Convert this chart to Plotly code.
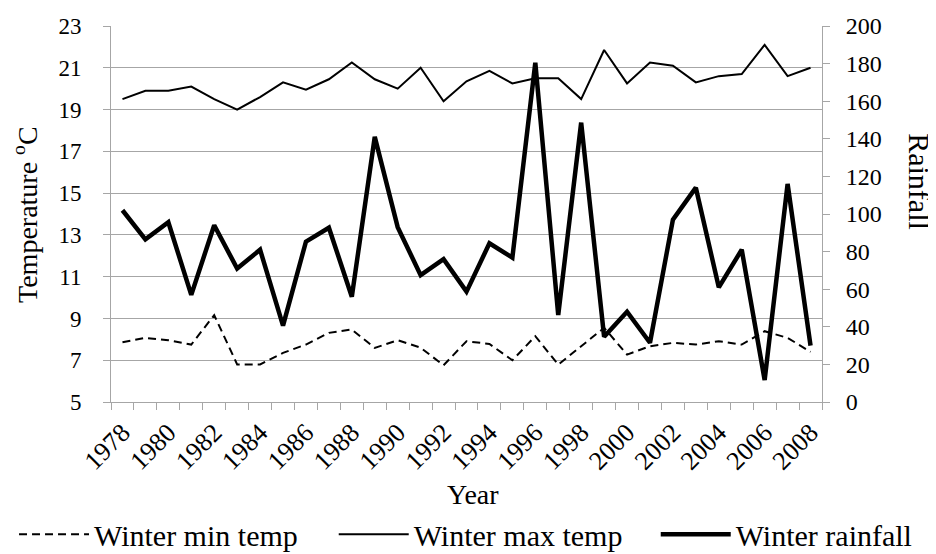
import plotly.graph_objects as go

years = list(range(1978, 2009))
min_temp = [7.86, 8.07, 7.96, 7.75, 9.16, 6.8, 6.8, 7.35, 7.75, 8.31,
            8.47, 7.59, 7.96, 7.6, 6.76, 7.91, 7.78, 7.0, 8.15, 6.79,
            7.67, 8.55, 7.27, 7.67, 7.83, 7.75, 7.91, 7.75, 8.39, 8.07, 7.4]
max_temp = [19.5, 19.9, 19.9, 20.1, 19.5, 19.0, 19.6, 20.3, 19.95, 20.45,
            21.25, 20.45, 20.0, 21.0, 19.4, 20.35, 20.85, 20.25, 20.5, 20.5,
            19.5, 21.85, 20.25, 21.25, 21.1, 20.3, 20.6, 20.7, 22.1, 20.6, 21.0]
rainfall = [102, 86.5, 95.6, 57, 94, 71, 81, 40.6, 85.3, 92.7,
            56, 141, 93, 67.5, 76, 58.7, 84.4, 76.8, 180.5, 46.3,
            148.6, 34.7, 48, 31.5, 97, 114, 61, 81, 11.7, 116, 30]
temp_ticks = list(range(5, 24, 2))
rain_ticks = list(range(0, 201, 20))
year_labels = years[::2]

FONT = "Liberation Serif"
GRID = "#A6A6A6"

fig = go.Figure()
fig.add_trace(go.Scatter(x=years, y=min_temp, name="Winter min temp", mode="lines",
                         line=dict(color="black", width=2, dash="8px,5px"),
                         legend="legend"))
fig.add_trace(go.Scatter(x=years, y=max_temp, name="Winter max temp", mode="lines",
                         line=dict(color="black", width=2), legend="legend2"))
fig.add_trace(go.Scatter(x=years, y=rainfall, name="Winter rainfall", mode="lines",
                         line=dict(color="black", width=4.5), yaxis="y2",
                         legend="legend3"))

boundaries = [y - 0.5 for y in years] + [years[-1] + 0.5]

def legend_box(xpos):
    return dict(orientation="h", xref="container", yref="paper",
                x=xpos, y=-0.352, xanchor="left", yanchor="middle",
                bgcolor="rgba(0,0,0,0)",
                font=dict(family=FONT, size=30, color="black"),
                itemwidth=70)

# the page body adds an 8px margin, so the figure is sized to the visible window
fig.update_layout(
    width=928, height=546,
    margin=dict(l=103, r=114, t=18, b=152, autoexpand=False),
    paper_bgcolor="white", plot_bgcolor="white",
    font=dict(family=FONT, color="black", size=22),
    xaxis=dict(
        range=[years[0] - 0.5, years[-1] + 0.5], automargin=False,
        tickmode="array", tickvals=year_labels, ticktext=[str(y) for y in year_labels],
        tickangle=-45, ticks="", showgrid=False, zeroline=False,
        showline=True, linecolor=GRID, linewidth=1,
        ticklabelstandoff=4,
        tickfont=dict(family=FONT, size=26, color="black"),
        minor=dict(tickmode="array", tickvals=boundaries, ticks="outside",
                   ticklen=7, tickcolor=GRID, tickwidth=1, showgrid=False),
    ),
    yaxis=dict(
        range=[5, 23], tickmode="array", tickvals=temp_ticks, automargin=False,
        showgrid=True, gridcolor=GRID, gridwidth=1, zeroline=False,
        showline=True, linecolor=GRID, linewidth=1,
        ticks="outside", ticklen=7, tickcolor=GRID,
        ticklabelstandoff=17,
        tickfont=dict(family=FONT, size=23, color="black"),
    ),
    yaxis2=dict(
        range=[0, 200], tickmode="array", tickvals=rain_ticks, automargin=False,
        overlaying="y", side="right", showgrid=False, zeroline=False,
        showline=True, linecolor=GRID, linewidth=1,
        ticks="outside", ticklen=7, tickcolor=GRID,
        ticklabelstandoff=11,
        tickfont=dict(family=FONT, size=24, color="black"),
    ),
    showlegend=True,
    legend=legend_box(0.0065),
    legend2=legend_box(0.351),
    legend3=legend_box(0.698),
    annotations=[
        dict(text="Year", xref="paper", yref="paper", x=0.509, y=-0.247,
             xanchor="center", yanchor="middle",
             showarrow=False, font=dict(family=FONT, size=28, color="black")),
        dict(text="Temperature <sup>o</sup>C", xref="paper", yref="paper",
             x=-0.121, y=0.5, xanchor="center", yanchor="middle", textangle=-90,
             showarrow=False, font=dict(family=FONT, size=28, color="black")),
        dict(text="Rainfall", xref="paper", yref="paper",
             x=1.1376, y=0.585, xanchor="center", yanchor="middle", textangle=90,
             showarrow=False, font=dict(family=FONT, size=30, color="black")),
    ],
)

fig.write_html("out.html")
